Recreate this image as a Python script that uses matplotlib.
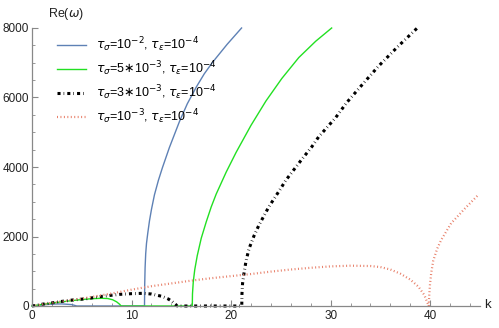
import matplotlib
matplotlib.use("Agg")
import matplotlib.pyplot as plt
from matplotlib.ticker import MultipleLocator

plt.rcParams['font.family'] = ['Liberation Sans', 'DejaVu Sans']
plt.rcParams['mathtext.fontset'] = 'dejavusans'

# ---- data ----
k_blue = [0, 1, 2, 3, 4, 4.5, 11.3, 11.32, 11.36, 11.42, 11.5, 11.63, 11.8, 12.0, 12.3, 12.7, 13.1, 13.8, 14.8, 15.6, 16.5, 17.3, 18.1, 19.6, 21.05]
v_blue = [0, 30, 55, 60, 40, 0, 0, 600, 1100, 1500, 1800, 2100, 2450, 2780, 3200, 3620, 3980, 4560, 5300, 5820, 6300, 6680, 7000, 7530, 8000]

k_green = [0, 1, 2, 3, 4, 5, 6, 7, 7.6, 8.1, 8.5, 8.8, 8.95, 16.1, 16.12, 16.2, 16.35, 16.6, 17.0, 17.5, 18.0, 18.5, 19.5, 20.5, 22.0, 23.5, 25.1, 26.8, 28.5, 30.1]
v_green = [0, 45, 85, 120, 155, 185, 210, 222, 215, 180, 120, 50, 0, 0, 350, 700, 1050, 1450, 1950, 2420, 2850, 3220, 3850, 4420, 5200, 5900, 6550, 7150, 7620, 8000]

k_black = [0, 1, 2, 2.8, 4, 5.5, 6.8, 8, 8.8, 10, 11.1, 12, 13.1, 13.7, 14.1, 14.4, 14.6, 21.07, 21.09, 21.15, 21.3, 21.5, 21.8, 22.3, 22.8, 23.8, 24.8, 25.5, 27.1, 28.1, 28.8, 30.5, 31.6, 33.2, 34.8, 36.8, 38.7]
v_black = [0, 50, 90, 125, 170, 210, 270, 310, 335, 355, 365, 345, 275, 200, 125, 50, 0, 0, 350, 650, 950, 1300, 1650, 2020, 2330, 2860, 3300, 3620, 4220, 4580, 4870, 5420, 5850, 6380, 6900, 7480, 8000]

k_orange = [0, 2, 4, 6, 8, 10, 12, 14, 16, 18, 20, 22, 24, 26, 28, 30, 32, 34, 35, 36, 37, 38, 38.8, 39.4, 39.85, 39.9, 39.97, 40.1, 40.3, 40.7, 41.1, 42.1, 43.5, 44.8]
v_orange = [0, 90, 170, 260, 360, 470, 570, 650, 730, 800, 860, 920, 990, 1050, 1100, 1140, 1160, 1150, 1120, 1050, 930, 760, 560, 320, 0, 300, 600, 950, 1300, 1650, 1900, 2380, 2810, 3190]

labels = [r'$\tau_\sigma$=10$^{-2}$, $\tau_\epsilon$=10$^{-4}$',
          r'$\tau_\sigma$=5$\ast$10$^{-3}$, $\tau_\epsilon$=10$^{-4}$',
          r'$\tau_\sigma$=3$\ast$10$^{-3}$, $\tau_\epsilon$=10$^{-4}$',
          r'$\tau_\sigma$=10$^{-3}$, $\tau_\epsilon$=10$^{-4}$']

x_ticks = [0, 10, 20, 30, 40]
y_ticks = [0, 2000, 4000, 6000, 8000]

# ---- figure ----
W, H = 499, 328
fig = plt.figure(figsize=(W / 100, H / 100), dpi=100)
ax = fig.add_axes([32 / W, 22 / H, 448 / W, 278 / H])
ax.set_xlim(0, 45)
ax.set_ylim(0, 8000)

ax.plot(k_blue, v_blue, color='#5E81B5', lw=1.0, label=labels[0], clip_on=False)
ax.plot(k_green, v_green, color='#22E022', lw=1.0, label=labels[1], clip_on=False)
ax.plot(k_black, v_black, color='black', lw=2.2, linestyle=(0, (1.0, 1.0, 0.2, 1.0)),
        label=labels[2], clip_on=False)
ax.plot(k_orange, v_orange, color='#E8806A', lw=1.6, linestyle=(0, (0.45, 1.1)),
        label=labels[3], clip_on=False)

for s in ['top', 'right']:
    ax.spines[s].set_visible(False)
for s in ['left', 'bottom']:
    ax.spines[s].set_color('#888888')
    ax.spines[s].set_linewidth(0.9)

ax.set_xticks(x_ticks)
ax.set_yticks(y_ticks)
ax.xaxis.set_minor_locator(MultipleLocator(2))
ax.yaxis.set_minor_locator(MultipleLocator(500))
ax.tick_params(which='both', direction='in', color='#888888', labelsize=8.5, labelcolor='#222222')
ax.tick_params(which='major', length=4, width=0.8)
ax.tick_params(which='minor', length=2.5, width=0.6)
ax.tick_params(axis='x', pad=3)
ax.tick_params(axis='y', pad=2)

fig.text(66 / W, 1 - 14 / H, r'Re($\omega$)', ha='center', va='center', fontsize=9, color='#222222')
fig.text(487 / W, 1 - 305 / H, 'k', ha='center', va='center', fontsize=9.5, color='#222222')

leg = ax.legend(loc='upper left', bbox_to_anchor=(0.045, 0.99), frameon=False, fontsize=9,
                handlelength=2.3, handletextpad=0.8, labelspacing=0.42, borderaxespad=0)

fig.savefig('out.png', dpi=100)
